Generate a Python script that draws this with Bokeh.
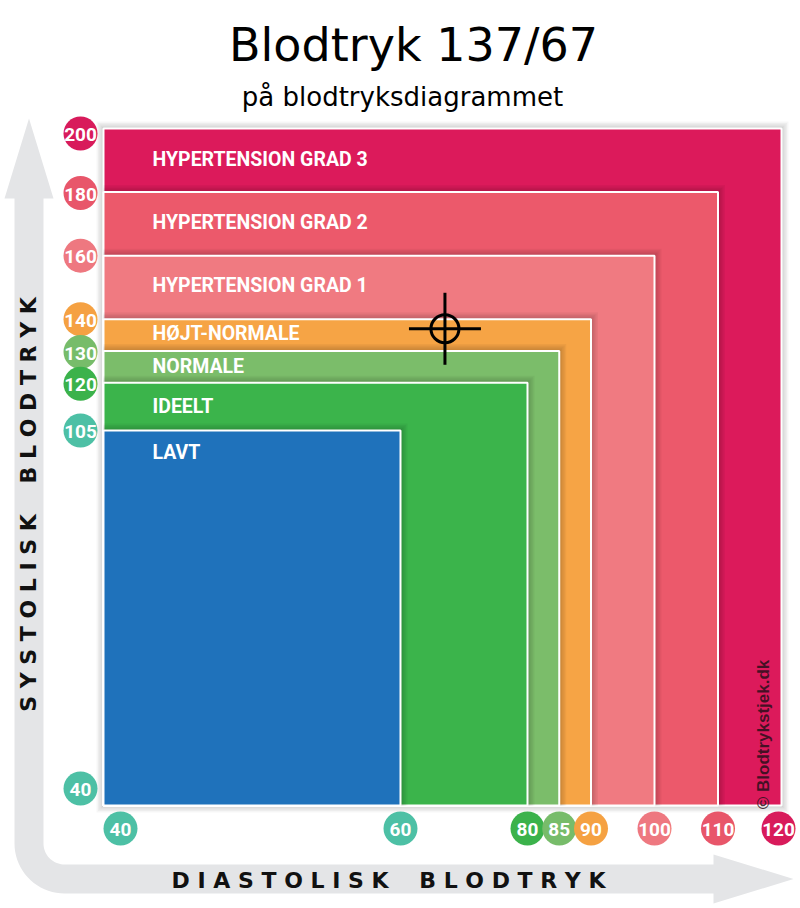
import numpy as np
from bokeh.plotting import figure
from bokeh.models import Range1d
from bokeh.embed import file_html
from bokeh.resources import INLINE
from bokeh.core.properties import value

# ---------------- data ----------------
title_text = "Blodtryk 137/67"
subtitle_text = "på blodtryksdiagrammet"
NB = "\u00a0"
y_axis_label = "S Y S T O L I S K" + NB * 4 + "B L O D T R Y K"
x_axis_label = "D I A S T O L I S K" + NB * 4 + "B L O D T R Y K"
credit_text = "© Blodtrykstjek.dk"

zone_names = ["HYPERTENSION GRAD 3", "HYPERTENSION GRAD 2", "HYPERTENSION GRAD 1",
              "HØJT-NORMALE", "NORMALE", "IDEELT", "LAVT"]
zone_sys = [200, 180, 160, 140, 130, 120, 105]
zone_dia = [120, 110, 100, 90, 85, 80, 60]
zone_colors = ["#DC1A5B", "#EC596B", "#F07A81", "#F6A445", "#7BBD6A", "#3BB44B", "#1F72BB"]
base_sys = 40
base_dia = 40

sys_ticks = [200, 180, 160, 140, 130, 120, 105, 40]
sys_tick_colors = ["#D81B5B", "#E8566A", "#EE7880", "#F5A142", "#77BC6A", "#3BB24B", "#4DC0A5", "#4DC0A5"]
dia_ticks = [40, 60, 80, 85, 90, 100, 110, 120]
dia_tick_colors = ["#4DC0A5", "#4DC0A5", "#3BB24B", "#77BC6A", "#F5A142", "#EE7880", "#E8566A", "#D81B5B"]

reading_sys = 137
reading_dia = 67

# ---------------- scales (piecewise linear axes, page pixel space) ----------------
DIA_KNOTS = ([40, 60, 120], [103, 400, 781])
SYS_KNOTS = ([40, 105, 200], [805, 430, 128])


def dia(v):
    return np.interp(np.asarray(v, dtype=float), *DIA_KNOTS)


def sys_(v):
    return np.interp(np.asarray(v, dtype=float), *SYS_KNOTS)


p = figure(width=800, height=908, x_range=Range1d(0, 800), y_range=Range1d(908, 0),
           output_backend="svg", toolbar_location=None, min_border=0)
p.axis.visible = False
p.grid.visible = False
p.outline_line_color = None
p.background_fill_color = "white"
p.border_fill_color = "white"

# ---------------- grey L-shaped arrows ----------------
shaft_l, shaft_r = 14, 43
band_t, band_b = 864, 893
cx, cy = 64, 843
t_in = np.linspace(np.pi, np.pi / 2, 20)
t_out = np.linspace(np.pi / 2, np.pi, 20)
ax_x = ([shaft_l, 4, (shaft_l + shaft_r) / 2, 53, shaft_r, shaft_r]
        + list(cx + 21 * np.cos(t_in))
        + [713, 713, 793, 713, 713]
        + list(cx + 50 * np.cos(t_out)))
ax_y = ([198, 198, 118, 198, 198, cy]
        + list(cy + 21 * np.sin(t_in))
        + [band_t, 854, (band_t + band_b) / 2, 903, band_b]
        + list(cy + 50 * np.sin(t_out)))
p.patch(ax_x, ax_y, fill_color="#E4E5E7", line_color=None)

# ---------------- zones ----------------
x0 = float(dia(base_dia))
y0 = float(sys_(base_sys))
label_dy = [31, 30, 30, 14, 15, 24, 22]
for i, (name, s, d, c) in enumerate(zip(zone_names, zone_sys, zone_dia, zone_colors)):
    top = float(sys_(s))
    right = float(dia(d))
    # soft shadow
    for k in range(1, 6):
        e = 1.4 * k
        if i == 0:
            p.quad(left=x0 - e, right=right + e, top=top - e, bottom=y0 + e,
                   fill_color="black", fill_alpha=0.035, line_color=None)
        else:
            p.quad(left=x0, right=right + e, top=top - e, bottom=y0,
                   fill_color="black", fill_alpha=0.04, line_color=None)
    p.quad(left=x0, right=right, top=top, bottom=y0, fill_color=c,
           line_color="white", line_width=2)
    p.text(x=[x0 + 49], y=[top + label_dy[i]], text=[name], text_color="white",
           text_font=value("Roboto"), text_font_style="bold", text_font_size="19.5px",
           text_baseline="middle", text_align="left")

# ---------------- tick badges ----------------
sys_tick_dy = [5, 1, 0, 0, 1, 1, 0, -17]
ys = sys_(sys_ticks) + np.array(sys_tick_dy)
xs = np.full(len(sys_ticks), 80.0)
p.scatter(xs, ys, marker="circle", size=34, fill_color=sys_tick_colors, line_color=None)
p.text(xs, ys + 1, text=[str(v) for v in sys_ticks], text_color="white",
       text_font=value("Roboto"), text_font_style="bold", text_font_size="19px",
       text_align="center", text_baseline="middle")

dia_tick_dx = [17, 0, 0, 0, 0, 0, 0, -3]
xd = dia(dia_ticks) + np.array(dia_tick_dx)
yd = np.full(len(dia_ticks), 828.0)
p.scatter(xd, yd, marker="circle", size=34, fill_color=dia_tick_colors, line_color=None)
p.text(xd, yd + 1, text=[str(v) for v in dia_ticks], text_color="white",
       text_font=value("Roboto"), text_font_style="bold", text_font_size="19px",
       text_align="center", text_baseline="middle")

# ---------------- reading marker ----------------
mx = float(dia(reading_dia))
my = float(sys_(reading_sys))
arm = 36
p.segment(x0=[mx - arm, mx], y0=[my, my - arm], x1=[mx + arm, mx], y1=[my, my + arm],
          line_color="black", line_width=3)
p.scatter([mx], [my], marker="circle", size=28, fill_color=None, line_color="black", line_width=3)

# ---------------- texts ----------------
p.text(x=[413], y=[44], text=[title_text], text_font=value("DejaVu Sans"),
       text_font_size="46px", text_color="black", text_align="center", text_baseline="middle")
p.text(x=[402], y=[96], text=[subtitle_text], text_font=value("DejaVu Sans"),
       text_font_size="26px", text_color="black", text_align="center", text_baseline="middle")
p.text(x=[28], y=[504], text=[y_axis_label], angle=np.pi / 2, text_font=value("DejaVu Sans"),
       text_font_style="bold", text_font_size="22px", text_color="#111111",
       text_align="center", text_baseline="middle")
p.text(x=[388], y=[880], text=[x_axis_label], text_font=value("DejaVu Sans"),
       text_font_style="bold", text_font_size="22px", text_color="#111111",
       text_align="center", text_baseline="middle")
p.text(x=[763], y=[734], text=[credit_text], angle=np.pi / 2, text_font=value("Liberation Sans"),
       text_font_style="bold", text_font_size="17px", text_color="#2a0f1a", text_alpha=0.85,
       text_align="center", text_baseline="middle")

open("out.html", "w").write(file_html(p, INLINE))
